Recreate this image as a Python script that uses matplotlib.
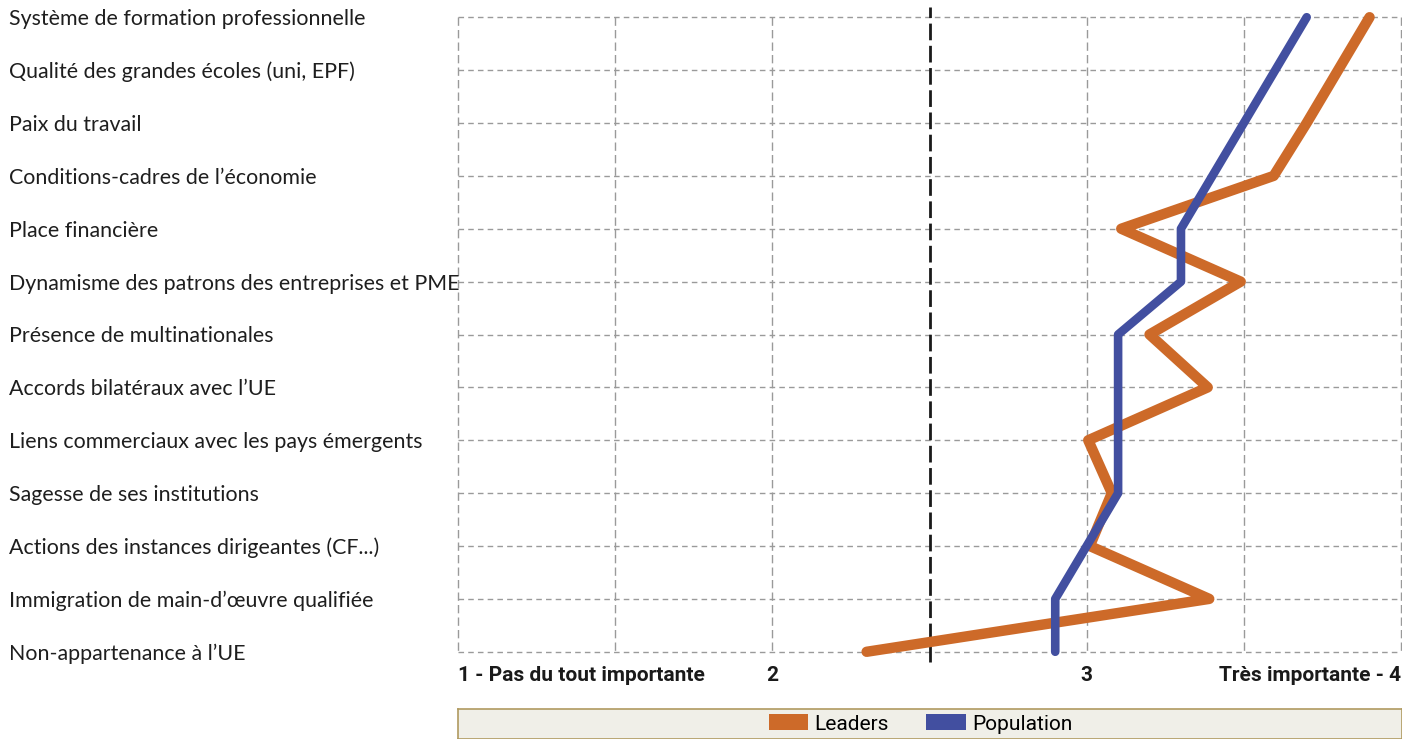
import matplotlib
matplotlib.use("Agg")
import matplotlib.pyplot as plt
from matplotlib.patches import Patch
from matplotlib.transforms import blended_transform_factory

categories = [
    "Système de formation professionnelle",
    "Qualité des grandes écoles (uni, EPF)",
    "Paix du travail",
    "Conditions-cadres de l’économie",
    "Place financière",
    "Dynamisme des patrons des entreprises et PME",
    "Présence de multinationales",
    "Accords bilatéraux avec l’UE",
    "Liens commerciaux avec les pays émergents",
    "Sagesse de ses institutions",
    "Actions des instances dirigeantes (CF...)",
    "Immigration de main-d’œuvre qualifiée",
    "Non-appartenance à l’UE",
]
leaders = [3.90, 3.80, 3.70, 3.595, 3.11, 3.49, 3.20, 3.385, 3.005, 3.08, 3.01, 3.39, 2.30]
population = [3.70, 3.60, 3.50, 3.40, 3.30, 3.30, 3.10, 3.10, 3.10, 3.10, 3.00, 2.90, 2.90]
tick_vals = [1, 2, 3, 4]
tick_labels = ["1 - Pas du tout importante", "2", "3", "Très importante - 4"]
grid_x = [1, 1.5, 2, 2.5, 3, 3.5, 4]

orange = "#CD6A29"
blue = "#424FA0"
label_font = ["Lato", "DejaVu Sans"]
tick_font = ["Roboto", "DejaVu Sans"]

W, H = 1402, 739
fig = plt.figure(figsize=(W / 100, H / 100), dpi=100)
ax = fig.add_axes([458 / W, 1 - 665 / H, (1401 - 458) / W, 661 / H])

rows = list(range(len(categories)))
ax.set_ylim(len(categories) - 0.75, -0.25)
ax.set_xlim(1, 4)

# dashed grid drawn by hand so it stops at first/last row
for r in rows:
    ax.plot([1, 4], [r, r], color="#9a9a9a", lw=1, ls=(0, (4, 3)), clip_on=False, zorder=1)
for gx in grid_x:
    if gx == 2.5:
        continue
    ax.plot([gx, gx], [0, rows[-1]], color="#9a9a9a", lw=1, ls=(0, (6, 3)), clip_on=False, zorder=1)
ax.axvline(2.5, ymin=0.005, ymax=0.995, color="#1a1a1a", lw=2, ls=(0, (6, 2)), zorder=2)

ax.plot(leaders, rows, color=orange, lw=7.5, solid_capstyle="round", solid_joinstyle="round", zorder=3)
ax.plot(population, rows, color=blue, lw=6.2, solid_capstyle="round", solid_joinstyle="round", zorder=4)

for s in ax.spines.values():
    s.set_visible(False)
ax.set_yticks([])
ax.set_xticks(tick_vals)
ax.set_xticklabels(tick_labels, family=tick_font, fontweight="bold", fontsize=15, color="#1a1a1a")
ax.tick_params(axis="x", length=0, pad=1)
lbls = ax.get_xticklabels()
lbls[0].set_ha("left")
lbls[-1].set_ha("right")

tr = blended_transform_factory(fig.transFigure, ax.transData)
for r, c in zip(rows, categories):
    ax.text(9 / W, r + 0.15, c, transform=tr, ha="left", va="baseline", fontsize=15.4,
            family=label_font, color="#1e1e1e")

# legend box at the bottom
lax = fig.add_axes([458 / W, 0, (W - 458) / W, 30 / H])
lax.set_facecolor("#F0EFE8")
lax.set_xticks([])
lax.set_yticks([])
for s in lax.spines.values():
    s.set_color("#B09A60")
    s.set_linewidth(1.2)
handles = [Patch(facecolor=orange, label="Leaders"), Patch(facecolor=blue, label="Population")]
lg = lax.legend(handles=handles, loc="center", ncol=2, frameon=False,
                prop={"family": tick_font, "size": 15}, handlelength=1.9, handleheight=0.8,
                handletextpad=0.3, columnspacing=1.8, borderaxespad=0, borderpad=0,
                bbox_to_anchor=(0.49, 0.5))

fig.savefig("out.png", dpi=100)
